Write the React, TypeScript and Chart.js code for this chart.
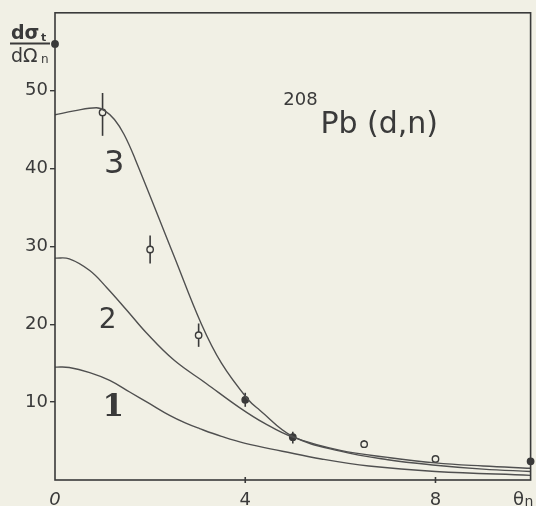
import { useEffect, useRef } from "react";
import { Chart, registerables } from "chart.js";

Chart.register(...registerables);

// Curves (theory)
const curve1X = [0, 0.3, 0.73, 1.15, 1.57, 1.99, 2.41, 2.75, 3.04, 3.5, 4.0, 4.78, 5.6, 6.6, 8.0, 10.0];
const curve1Y = [14.5, 14.45, 13.8, 12.8, 11.3, 9.8, 8.3, 7.3, 6.6, 5.6, 4.7, 3.7, 2.7, 1.8, 1.1, 0.6];

const curve2X = [0, 0.3, 0.73, 1.09, 1.51, 1.92, 2.5, 3.18, 3.88, 4.4, 5.0, 6.0, 7.0, 8.0, 9.0, 10.0];
const curve2Y = [28.5, 28.4, 26.9, 24.7, 21.8, 18.9, 15.4, 12.4, 9.3, 7.3, 5.5, 3.8, 2.9, 2.2, 1.8, 1.5];

const curve3X = [0, 0.4, 0.87, 1.05, 1.25, 1.45, 1.68, 2.5, 3.08, 3.5, 4.05, 4.3, 5.0, 6.0, 7.0, 8.0, 9.0, 10.0];
const curve3Y = [46.9, 47.4, 47.8, 47.4, 46.3, 44.4, 41.3, 28.8, 20.0, 15.0, 10.4, 9.0, 5.6, 3.7, 2.6, 1.9, 1.4, 1.1];

// Experimental points
const pointX = [0, 1.0, 2.0, 3.02, 4.0, 5.0, 6.5, 8.0, 10.0];
const pointY = [56, 47.2, 29.6, 18.6, 10.3, 5.5, 4.6, 2.7, 2.4];
const errLow = [null, 44.2, 27.8, 17.1, 9.4, 4.7, 4.1, null, null];
const errHigh = [null, 49.7, 31.4, 20.1, 11.2, 6.2, 5.1, null, null];
const pointFilled = [true, false, false, false, true, true, false, false, true];

// Axes
const yTicks = [10, 20, 30, 40, 50];
const xTicks = [0, 4, 8, 10];
const xTickLabels = ["0", "4", "8", "θ"];

const BG = "#f1f0e5";
const INK = "#3a3a3a";
const LINE = "#505050";

function toXY(xs: number[], ys: number[]) {
  return xs.map((x, i) => ({ x, y: ys[i] }));
}

const decor = {
  id: "decor",
  beforeDraw(chart: any) {
    const ctx = chart.ctx;
    ctx.save();
    ctx.fillStyle = BG;
    ctx.fillRect(0, 0, chart.width, chart.height);
    ctx.restore();
  },
  beforeDatasetsDraw(chart: any) {
    const ctx = chart.ctx;
    const xs = chart.scales.x;
    const ys = chart.scales.y;
    ctx.save();
    ctx.strokeStyle = INK;
    ctx.lineWidth = 1.6;
    pointX.forEach((x, i) => {
      const lo = errLow[i];
      const hi = errHigh[i];
      if (lo == null || hi == null) return;
      const px = xs.getPixelForValue(x);
      ctx.beginPath();
      ctx.moveTo(px, ys.getPixelForValue(lo));
      ctx.lineTo(px, ys.getPixelForValue(hi));
      ctx.stroke();
    });
    ctx.restore();
  },
  afterDraw(chart: any) {
    const ctx = chart.ctx;
    const a = chart.chartArea;
    const xs = chart.scales.x;
    const ys = chart.scales.y;
    ctx.save();
    // frame
    ctx.strokeStyle = INK;
    ctx.lineWidth = 1.6;
    ctx.strokeRect(a.left, a.top, a.right - a.left, a.bottom - a.top);
    // x tick marks
    xTicks.forEach((v) => {
      if (v === 0 || v === 10) return;
      const px = xs.getPixelForValue(v);
      ctx.beginPath();
      ctx.moveTo(px, a.bottom - 3);
      ctx.lineTo(px, a.bottom + 3);
      ctx.stroke();
    });
    // x tick labels
    ctx.fillStyle = INK;
    ctx.textAlign = "center";
    ctx.textBaseline = "alphabetic";
    xTicks.forEach((v, i) => {
      let px = xs.getPixelForValue(v);
      if (i === xTicks.length - 1) {
        px -= 12;
        ctx.font = "18px 'DejaVu Sans'";
        ctx.textAlign = "center";
        ctx.fillText(xTickLabels[i], px, 505);
        ctx.font = "14px 'DejaVu Sans'";
        ctx.textAlign = "left";
        ctx.fillText("n", px + 6, 506);
        ctx.textAlign = "center";
      } else {
        ctx.font = (v === 0 ? "italic " : "") + "18px 'DejaVu Sans'";
        ctx.fillText(xTickLabels[i], px, 505);
      }
    });
    // y axis title (fraction)
    ctx.textAlign = "left";
    ctx.font = "bold 19px 'DejaVu Sans'";
    ctx.fillText("dσ", 11, 39);
    ctx.font = "bold 11px 'DejaVu Sans'";
    ctx.fillText("t", 41, 41);
    ctx.lineWidth = 2;
    ctx.beginPath();
    ctx.moveTo(10, 43.5);
    ctx.lineTo(50, 43.5);
    ctx.stroke();
    ctx.font = "19px 'DejaVu Sans'";
    ctx.fillText("dΩ", 11, 62);
    ctx.font = "12px 'DejaVu Sans'";
    ctx.fillText("n", 41, 63);
    // curve labels
    ctx.font = "32px 'DejaVu Sans'";
    ctx.fillText("3", xs.getPixelForValue(1.03), ys.getPixelForValue(39.4));
    ctx.font = "28px 'DejaVu Sans'";
    ctx.fillText("2", xs.getPixelForValue(0.92), ys.getPixelForValue(19.5));
    ctx.font = "bold 31px 'DejaVu Serif'";
    ctx.fillText("1", xs.getPixelForValue(1.0), ys.getPixelForValue(8.2));
    // reaction title
    ctx.font = "18px 'DejaVu Sans'";
    ctx.fillText("208", xs.getPixelForValue(4.8), ys.getPixelForValue(48.1));
    ctx.font = "30px 'DejaVu Sans'";
    ctx.fillText("Pb (d,n)", xs.getPixelForValue(5.58), ys.getPixelForValue(44.6));
    ctx.restore();
  },
};

export default function App() {
  const ref = useRef<HTMLCanvasElement | null>(null);
  useEffect(() => {
    if (!ref.current) return;
    const curveStyle = {
      showLine: true,
      pointRadius: 0,
      borderColor: LINE,
      borderWidth: 1.4,
      tension: 0.4,
      fill: false,
    };
    const chart = new Chart(ref.current, {
      type: "scatter",
      data: {
        datasets: [
          { ...curveStyle, label: "1", data: toXY(curve1X, curve1Y) },
          { ...curveStyle, label: "2", data: toXY(curve2X, curve2Y) },
          { ...curveStyle, label: "3", data: toXY(curve3X, curve3Y) },
          {
            label: "exp",
            data: toXY(pointX, pointY),
            showLine: false,
            pointRadius: 3.2,
            pointBorderWidth: 1.4,
            pointBorderColor: INK,
            pointBackgroundColor: pointFilled.map((f) => (f ? INK : BG)),
            clip: false,
          } as any,
        ],
      },
      options: {
        animation: false,
        responsive: false,
        maintainAspectRatio: false,
        layout: { padding: { left: 0, top: 12, right: 4, bottom: 0 } },
        plugins: {
          legend: { display: false },
          tooltip: { enabled: false },
          title: { display: false },
        },
        scales: {
          x: {
            type: "linear",
            min: 0,
            max: 10,
            border: { display: false },
            grid: { display: false },
            ticks: { display: false },
            afterBuildTicks: (s: any) => {
              s.ticks = xTicks.map((v) => ({ value: v }));
            },
            afterFit: (s: any) => {
              s.height = 26;
            },
          },
          y: {
            type: "linear",
            min: 0,
            max: 60,
            border: { display: false },
            grid: {
              display: true,
              drawOnChartArea: false,
              drawTicks: true,
              tickLength: 5,
              color: INK,
              lineWidth: 1.4,
            },
            ticks: {
              color: INK,
              padding: 2,
              font: { family: "'DejaVu Sans'", size: 18 },
            },
            afterBuildTicks: (s: any) => {
              s.ticks = yTicks.map((v) => ({ value: v }));
            },
            afterFit: (s: any) => {
              s.width = 55;
            },
          },
        },
      },
      plugins: [decor],
    });
    return () => chart.destroy();
  }, []);
  return (
    <div style={{ position: "fixed", left: 0, top: 0, width: 536, height: 506, background: BG }}>
      <canvas ref={ref} width={536} height={506} style={{ display: "block" }} />
    </div>
  );
}
